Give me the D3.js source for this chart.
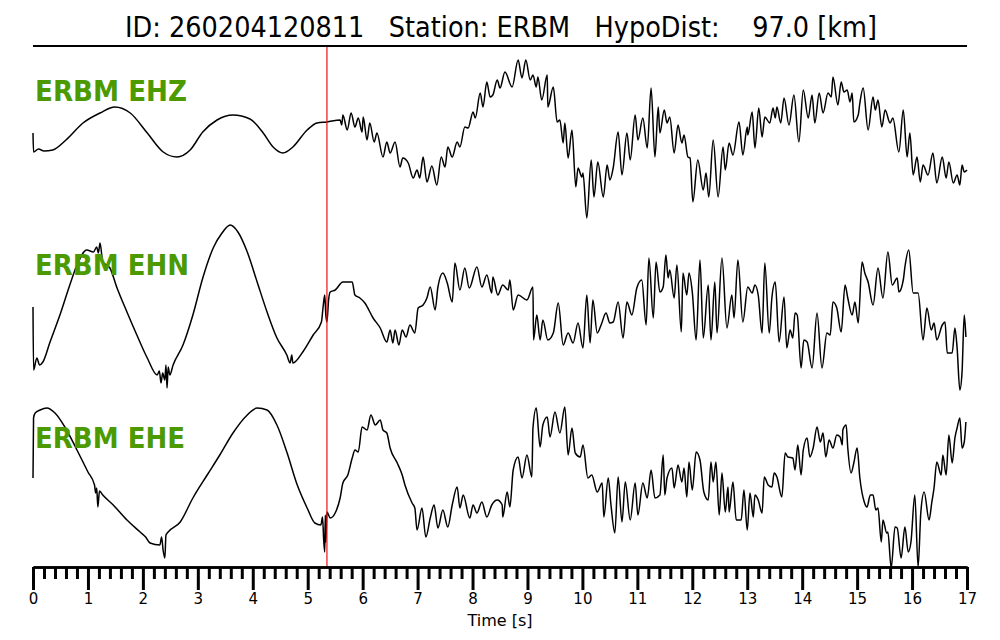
<!DOCTYPE html>
<html><head><meta charset="utf-8">
<script src="https://cdn.jsdelivr.net/npm/d3@7"></script>
<style>body{margin:0;background:#fff}svg{display:block}</style>
</head><body><svg id="c" width="1000" height="640"></svg>
<script>
const titleText = "ID: 260204120811   Station: ERBM   HypoDist:    97.0 [km]";
const channelNames = ["ERBM EHZ", "ERBM EHN", "ERBM EHE"];
const tickLabels = ["0","1","2","3","4","5","6","7","8","9","10","11","12","13","14","15","16","17"];
const xLabel = "Time [s]";
const pickTime = 5.35;

// [time s, amplitude (arbitrary counts)]
const ehz = [[0,7],[0.01,-12],[0.10,-9],[0.20,-11],[0.36,-10],[0.60,0],[0.91,17],[1.22,27],[1.49,33],[1.77,27],[2.08,7],[2.37,-12],[2.62,-17],[2.86,-10],[3.09,8],[3.35,20],[3.64,25],[3.95,21],[4.19,7],[4.37,-7],[4.55,-13],[4.73,-7],[4.99,10],[5.17,17],[5.35,18],[5.59,20],[5.62,15],[5.64,25],[5.72,10],[5.79,27],[5.86,13],[5.92,22],[5.99,8],[6.01,23],[6.08,0],[6.13,17],[6.21,-2],[6.26,7],[6.37,-17],[6.44,-2],[6.50,-13],[6.59,-2],[6.68,-27],[6.73,-18],[6.83,-23],[6.92,-38],[6.99,-30],[7.04,-38],[7.10,-17],[7.17,-42],[7.26,-26],[7.35,-45],[7.43,-17],[7.50,-27],[7.55,-7],[7.63,-17],[7.72,-2],[7.77,-7],[7.86,13],[7.92,12],[8.01,28],[8.05,22],[8.14,47],[8.19,33],[8.26,58],[8.32,43],[8.37,45],[8.45,60],[8.50,52],[8.59,68],[8.72,53],[8.83,80],[8.90,62],[8.97,80],[9.05,60],[9.10,65],[9.16,53],[9.19,63],[9.26,40],[9.36,65],[9.37,33],[9.47,53],[9.54,18],[9.59,20],[9.65,-3],[9.68,17],[9.74,-18],[9.81,10],[9.88,-47],[9.92,-28],[9.99,-37],[10.01,-33],[10.08,-78],[10.16,-20],[10.21,-57],[10.28,-22],[10.38,-57],[10.45,-25],[10.50,-40],[10.56,-28],[10.65,8],[10.72,-35],[10.81,7],[10.87,-20],[10.96,25],[11.01,0],[11.10,22],[11.18,-8],[11.25,52],[11.32,-17],[11.38,33],[11.41,7],[11.49,30],[11.54,17],[11.59,23],[11.67,-13],[11.74,15],[11.81,-3],[11.85,5],[11.92,-17],[11.96,-18],[12.01,-62],[12.10,-20],[12.20,-50],[12.25,-33],[12.30,-57],[12.38,0],[12.47,-57],[12.56,-7],[12.60,-30],[12.67,-3],[12.74,-15],[12.85,18],[12.92,-15],[13.00,13],[13.01,5],[13.09,28],[13.14,-8],[13.21,32],[13.27,3],[13.32,23],[13.41,17],[13.47,32],[13.51,22],[13.54,33],[13.61,17],[13.67,42],[13.76,15],[13.85,45],[13.94,-2],[14.02,50],[14.11,22],[14.18,45],[14.23,17],[14.31,47],[14.38,27],[14.47,47],[14.53,43],[14.56,63],[14.65,35],[14.71,58],[14.76,48],[14.82,50],[14.87,38],[14.91,47],[14.94,18],[15.02,25],[15.05,37],[15.11,52],[15.20,10],[15.29,43],[15.33,30],[15.38,40],[15.45,13],[15.51,30],[15.60,17],[15.65,22],[15.76,-12],[15.84,30],[15.91,-17],[15.96,7],[16.02,-35],[16.09,-17],[16.15,-42],[16.20,-25],[16.29,-35],[16.38,-13],[16.45,-43],[16.55,-17],[16.62,-38],[16.67,-22],[16.75,-43],[16.82,-35],[16.87,-45],[16.91,-25],[16.95,-32],[17.00,-30]];

const ehn = [[0,-2],[0.01,-65],[0.07,-53],[0.12,-60],[0.18,-57],[0.31,-37],[0.49,-10],[0.67,20],[0.80,40],[0.98,55],[1.10,53],[1.16,58],[1.19,52],[1.22,62],[1.27,43],[1.40,37],[1.53,17],[1.71,-7],[1.89,-30],[2.08,-53],[2.26,-70],[2.30,-66],[2.33,-78],[2.36,-68],[2.40,-75],[2.42,-60],[2.44,-83],[2.46,-62],[2.49,-70],[2.55,-60],[2.73,-40],[2.91,-10],[3.09,27],[3.28,57],[3.44,72],[3.59,80],[3.73,73],[3.90,53],[4.08,23],[4.26,-7],[4.44,-33],[4.62,-50],[4.68,-58],[4.71,-50],[4.73,-58],[4.91,-47],[5.10,-30],[5.25,-17],[5.28,-2],[5.31,10],[5.33,-10],[5.35,-17],[5.38,5],[5.41,13],[5.50,15],[5.64,23],[5.81,23],[5.86,10],[5.95,7],[6.04,2],[6.19,-13],[6.32,-23],[6.44,-37],[6.50,-25],[6.55,-38],[6.59,-25],[6.66,-40],[6.72,-25],[6.79,-32],[6.86,-20],[6.95,-28],[7.01,-3],[7.10,0],[7.17,7],[7.23,18],[7.32,-5],[7.37,18],[7.46,32],[7.54,22],[7.63,3],[7.68,42],[7.77,15],[7.86,37],[7.94,17],[8.08,38],[8.17,18],[8.26,30],[8.35,12],[8.37,28],[8.46,10],[8.55,20],[8.65,15],[8.68,25],[8.74,-5],[8.83,10],[8.99,5],[9.10,18],[9.11,-35],[9.17,-10],[9.23,-35],[9.28,-15],[9.37,-35],[9.47,-28],[9.56,2],[9.65,-40],[9.74,-28],[9.83,-38],[9.92,-18],[10.01,-43],[10.08,10],[10.14,-38],[10.19,5],[10.27,-28],[10.34,-20],[10.43,-8],[10.50,-18],[10.56,-17],[10.65,3],[10.74,-33],[10.81,3],[10.90,-10],[10.99,17],[11.08,25],[11.16,-20],[11.21,47],[11.29,-13],[11.34,43],[11.41,13],[11.47,18],[11.52,50],[11.56,27],[11.59,35],[11.67,7],[11.72,40],[11.80,-27],[11.83,32],[11.90,10],[11.94,32],[12.00,13],[12.07,-35],[12.14,45],[12.20,-33],[12.29,20],[12.34,-35],[12.41,23],[12.45,-28],[12.54,47],[12.63,-23],[12.72,10],[12.76,-13],[12.83,45],[12.92,-17],[13.01,18],[13.09,12],[13.14,20],[13.20,10],[13.27,-28],[13.32,42],[13.40,-28],[13.45,8],[13.51,23],[13.58,-37],[13.67,8],[13.72,-43],[13.78,-25],[13.83,-33],[13.87,-8],[13.91,-10],[13.98,-63],[14.03,-35],[14.09,-37],[14.18,-63],[14.27,-8],[14.36,-63],[14.45,-28],[14.51,-30],[14.56,3],[14.63,-3],[14.71,-27],[14.78,20],[14.83,7],[14.91,-10],[14.96,3],[15.02,-18],[15.09,43],[15.14,32],[15.20,23],[15.29,0],[15.38,37],[15.47,7],[15.56,53],[15.64,20],[15.73,27],[15.76,13],[15.84,25],[15.87,38],[15.94,55],[16.02,12],[16.11,12],[16.20,-35],[16.27,-3],[16.35,-25],[16.40,-18],[16.45,-35],[16.55,-20],[16.60,-17],[16.64,-48],[16.73,-48],[16.78,-23],[16.82,-43],[16.87,-85],[16.91,-67],[16.95,-10],[16.98,-32]];

const ehe = [[0,9],[0.01,69],[0.04,74],[0.13,77],[0.25,79],[0.40,74],[0.58,60],[0.80,37],[1.00,15],[1.12,2],[1.14,-6],[1.16,-1],[1.18,-20],[1.21,-4],[1.27,-8],[1.46,-18],[1.71,-33],[1.95,-45],[2.05,-50],[2.13,-56],[2.31,-58],[2.34,-50],[2.37,-64],[2.40,-71],[2.42,-48],[2.46,-45],[2.68,-35],[2.91,-11],[3.17,12],[3.40,32],[3.64,54],[3.90,72],[4.08,79],[4.26,77],[4.44,62],[4.62,35],[4.81,2],[4.99,-21],[5.13,-36],[5.24,-38],[5.27,-30],[5.29,-52],[5.31,-65],[5.32,-28],[5.33,-55],[5.35,-25],[5.41,-31],[5.50,-26],[5.59,-11],[5.64,4],[5.73,12],[5.81,29],[5.86,37],[5.92,35],[5.99,60],[6.08,57],[6.15,72],[6.23,62],[6.32,67],[6.37,57],[6.44,54],[6.50,39],[6.63,24],[6.72,12],[6.77,2],[6.90,-16],[6.95,-21],[6.99,-43],[7.08,-21],[7.15,-50],[7.23,-31],[7.30,-18],[7.37,-41],[7.46,-23],[7.55,-40],[7.63,-18],[7.72,0],[7.77,-21],[7.83,-8],[7.95,-31],[8.01,-18],[8.08,-26],[8.17,-15],[8.26,-30],[8.35,-18],[8.45,-13],[8.54,-18],[8.55,-30],[8.63,-5],[8.68,-20],[8.74,17],[8.83,30],[8.90,9],[8.99,32],[9.08,10],[9.10,59],[9.16,79],[9.23,40],[9.28,62],[9.36,70],[9.41,50],[9.50,75],[9.59,54],[9.68,80],[9.74,32],[9.81,59],[9.87,34],[9.96,30],[10.01,42],[10.10,9],[10.17,12],[10.27,-5],[10.36,4],[10.39,-30],[10.47,9],[10.52,-18],[10.59,-46],[10.65,10],[10.72,-35],[10.78,5],[10.87,-33],[10.96,4],[11.01,-28],[11.10,4],[11.18,-11],[11.25,17],[11.32,-11],[11.41,-8],[11.47,32],[11.50,-8],[11.54,9],[11.63,19],[11.67,-1],[11.74,22],[11.81,5],[11.85,19],[11.90,-10],[11.94,25],[12.00,-3],[12.07,35],[12.14,27],[12.21,-5],[12.29,-13],[12.34,25],[12.38,5],[12.43,25],[12.49,-28],[12.54,14],[12.60,-25],[12.65,0],[12.67,-25],[12.74,5],[12.80,-33],[12.89,-33],[12.94,-3],[13.00,-43],[13.05,-6],[13.11,-30],[13.14,-8],[13.20,-13],[13.27,-26],[13.31,10],[13.38,2],[13.45,0],[13.49,14],[13.54,10],[13.63,-10],[13.69,34],[13.74,30],[13.83,29],[13.87,17],[13.92,42],[13.98,12],[14.02,37],[14.09,49],[14.14,30],[14.20,39],[14.27,60],[14.33,45],[14.38,54],[14.43,30],[14.49,47],[14.56,39],[14.63,52],[14.69,50],[14.73,42],[14.74,57],[14.80,62],[14.83,39],[14.89,14],[14.94,24],[15.00,39],[15.05,9],[15.13,-15],[15.18,-20],[15.24,-8],[15.29,-8],[15.34,-23],[15.38,-21],[15.44,-55],[15.47,-33],[15.54,-46],[15.56,-45],[15.62,-81],[15.69,-40],[15.73,-41],[15.80,-71],[15.87,-40],[15.93,-65],[15.98,-55],[16.05,-8],[16.11,-80],[16.16,-25],[16.22,-5],[16.31,-33],[16.36,-15],[16.40,-1],[16.45,25],[16.53,12],[16.56,32],[16.62,12],[16.67,52],[16.73,24],[16.78,49],[16.82,59],[16.87,69],[16.91,39],[16.95,45],[16.98,65]];

const traces = [ehz, ehn, ehe];

const svg = d3.select("#c");
const font = "DejaVu Sans, Verdana, sans-serif";
const x = d3.scaleLinear().domain([0, 17]).range([33, 967]);
const bandCenters = [140, 305, 487];
const ampDomain = [-100, 100];

// title
svg.append("text").attr("x", 501).attr("y", 37).attr("text-anchor", "middle")
  .attr("font-family", font).attr("font-size", 28).attr("fill", "#000")
  .style("white-space", "pre").attr("textLength", 752).attr("lengthAdjust", "spacingAndGlyphs")
  .text(titleText);
svg.append("line").attr("x1", x(0)).attr("x2", x(17)).attr("y1", 46).attr("y2", 46)
  .attr("stroke", "#000").attr("stroke-width", 2);

// traces
const labelBaselines = [101, 275, 448];
const labelWidths = [152, 154, 150];
traces.forEach((tr, i) => {
  const y = d3.scaleLinear().domain(ampDomain).range([bandCenters[i] + 100, bandCenters[i] - 100]);
  const line = d3.line().x(d => x(d[0])).y(d => y(d[1])).curve(d3.curveMonotoneX);
  svg.append("path").datum(tr).attr("d", line).attr("fill", "none")
    .attr("stroke", "#000").attr("stroke-width", 1.5).attr("stroke-linejoin", "round");
});
channelNames.forEach((n, i) => {
  svg.append("text").attr("x", 35).attr("y", labelBaselines[i])
    .attr("font-family", font).attr("font-weight", "bold").attr("font-size", 28)
    .attr("fill", "#4c9a00").attr("textLength", labelWidths[i]).attr("lengthAdjust", "spacingAndGlyphs")
    .text(n);
});

// pick line
svg.append("line").attr("x1", x(pickTime)).attr("x2", x(pickTime)).attr("y1", 47).attr("y2", 567)
  .attr("stroke", "#e4141c").attr("stroke-width", 1.2);

// axis
const axisY = 567;
const minor = d3.range(0, 85).map(k => k * 0.2).filter(v => Math.abs(v - Math.round(v)) > 1e-6);
const gMinor = svg.append("g").attr("transform", `translate(0,${axisY})`)
  .call(d3.axisBottom(x).tickValues(minor).tickSize(12).tickSizeOuter(0).tickFormat(""));
const gMajor = svg.append("g").attr("transform", `translate(0,${axisY})`)
  .call(d3.axisBottom(x).tickValues(d3.range(0, 18)).tickSize(23).tickSizeOuter(0).tickPadding(3)
    .tickFormat(i => tickLabels[i]));
[gMinor, gMajor].forEach(g => {
  g.selectAll(".tick line").attr("stroke", "#000").attr("stroke-width", 3);
  g.select(".domain").attr("stroke", "#000").attr("stroke-width", 2.5);
  g.selectAll("text").attr("font-family", font).attr("font-size", 15).attr("fill", "#000");
});
svg.append("text").attr("x", 500).attr("y", 626).attr("text-anchor", "middle")
  .attr("font-family", font).attr("font-size", 16).attr("fill", "#000").text(xLabel);
</script></body></html>
